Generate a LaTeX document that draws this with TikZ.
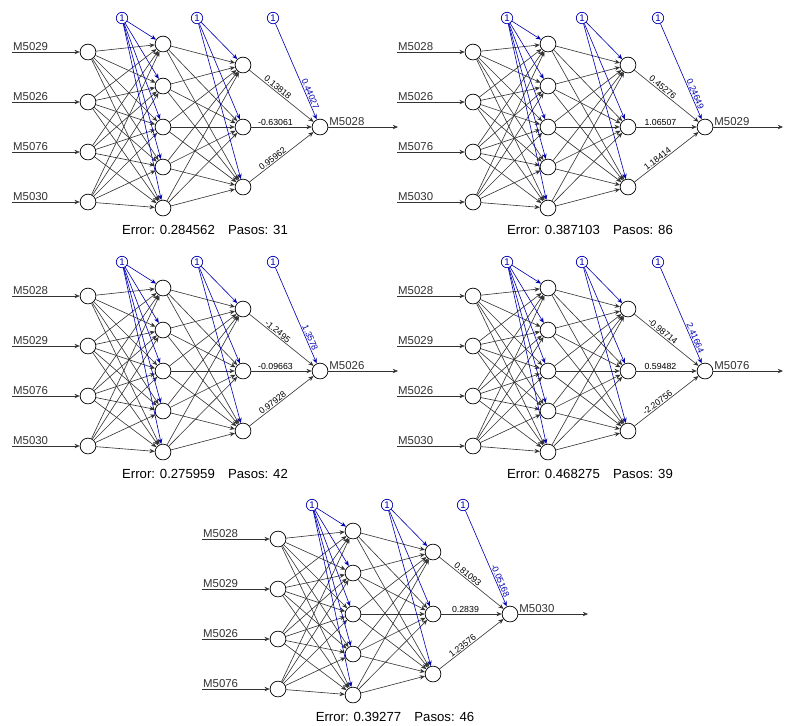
\documentclass[tikz,border=0pt]{standalone}
\usepackage{fontspec}
\setmainfont{Liberation Sans}
\usetikzlibrary{arrows.meta,calc}

\tikzset{
  neurona/.style={draw, circle, minimum size=9pt, inner sep=0pt, fill=white},
  sesgo/.style={draw=blue!70!black, circle, minimum size=6.5pt, inner sep=0pt, text=blue!70!black, font=\fontsize{5.5}{6}\selectfont},
  peso/.style={-{Stealth[length=3pt,width=2.5pt]}, black!80, line width=0.35pt},
  pesob/.style={-{Stealth[length=3pt,width=2.5pt]}, blue!70!black, line width=0.35pt},
  etq/.style={font=\fontsize{5}{6}\selectfont, inner sep=0.5pt, sloped, above},
  etqb/.style={etq, text=blue!70!black},
  var/.style={font=\fontsize{6.5}{7}\selectfont, inner sep=0.5pt},
}

% #1 dx, #2 dy, #3 id, #4-#7 inputs, #8 output, #9 caption
\newcommand{\redneuronal}[9]{
\begin{scope}[shift={(#1,#2)}]
\foreach \j/\y in {1/52,2/102,3/152,4/202}
  \node[neurona] (#3i\j) at (88,\y) {};
\foreach \j/\y in {1/44,2/86,3/127,4/167,5/208}
  \node[neurona] (#3h\j) at (163,\y) {};
\foreach \j/\y in {1/65,2/127,3/187}
  \node[neurona] (#3k\j) at (243,\y) {};
\node[neurona] (#3o) at (320,127) {};
\node[sesgo] (#3b1) at (122,18) {1};
\node[sesgo] (#3b2) at (197,18) {1};
\node[sesgo] (#3b3) at (273,18) {1};
\foreach \j/\t in {1/#4,2/#5,3/#6,4/#7}{
  \coordinate (#3e\j) at (12,{\j*50+2});
  \draw[peso] (#3e\j) -- node[var, above right, pos=0] {\t} (#3i\j);
}
\foreach \a in {1,...,4}
  \foreach \b in {1,...,5}
    \draw[peso] (#3i\a) -- (#3h\b);
\foreach \a in {1,...,5}
  \foreach \b in {1,...,3}
    \draw[peso] (#3h\a) -- (#3k\b);
\foreach \a in {1,...,3}
  \draw[peso] (#3k\a) -- (#3o);
\foreach \b in {1,...,5}
  \draw[pesob] (#3b1) -- (#3h\b);
\foreach \b in {1,...,3}
  \draw[pesob] (#3b2) -- (#3k\b);
\coordinate (#3s) at (398,127);
\draw[peso] (#3o) -- node[var, above right, pos=0] {#8} (#3s);
\node[font=\fontsize{7.5}{9}\selectfont] (#3c) at (205,230) {#9};
\end{scope}
}

% pesos de salida: id, w1, w2, w3, sesgo
\newcommand{\pesosalida}[5]{
\draw[pesob] (#1b3) -- node[etqb, pos=0.75] {#5} (#1o);
\path (#1k1) -- node[etq, pos=0.4] {#2} (#1o);
\path (#1k2) -- node[etq, pos=0.4] {#3} (#1o);
\path (#1k3) -- node[etq, pos=0.4] {#4} (#1o);
}

\begin{document}
\begin{tikzpicture}[x=0.02cm, y=-0.02cm]
\useasboundingbox (0,0) rectangle (805,725);

\redneuronal{0}{0}{A}{M5029}{M5026}{M5076}{M5030}{M5028}{Error: 0.284562\quad Pasos: 31}
\pesosalida{A}{0.13818}{-0.63061}{0.95962}{0.44027}

\redneuronal{385}{0}{B}{M5028}{M5026}{M5076}{M5030}{M5029}{Error: 0.387103\quad Pasos: 86}
\pesosalida{B}{0.45276}{1.06507}{1.18414}{0.24649}

\redneuronal{0}{244}{C}{M5028}{M5029}{M5076}{M5030}{M5026}{Error: 0.275959\quad Pasos: 42}
\pesosalida{C}{-1.2495}{-0.09663}{0.97928}{1.3578}

\redneuronal{385}{244}{D}{M5028}{M5029}{M5026}{M5030}{M5076}{Error: 0.468275\quad Pasos: 39}
\pesosalida{D}{-0.98714}{0.59482}{-2.20756}{2.41664}

\redneuronal{190}{487}{E}{M5028}{M5029}{M5026}{M5076}{M5030}{Error: 0.39277\quad Pasos: 46}
\pesosalida{E}{0.81093}{0.2839}{1.23576}{-0.05168}
\end{tikzpicture}
\end{document}
